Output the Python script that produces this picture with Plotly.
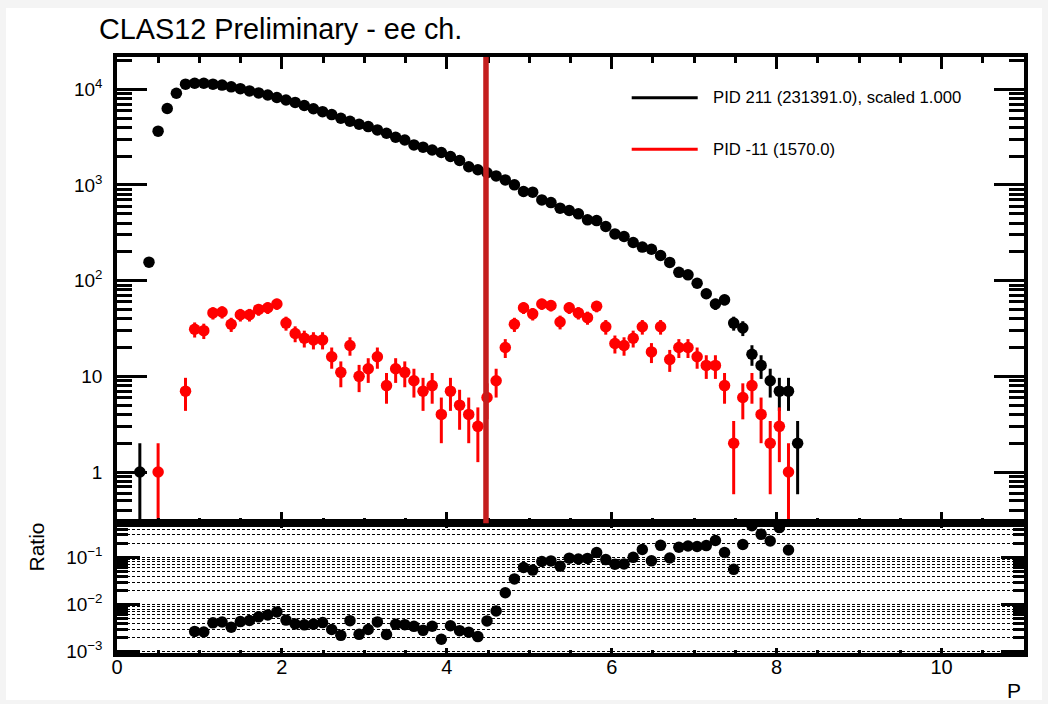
import numpy as np
import plotly.graph_objects as go

# ---------------- data ----------------
bin_width = 0.1108          # histogram bin width in P
cut_p = 4.475               # vertical cut line position

# PID 211 counts per bin (bins 0..74)
pid211_counts = [0, 0, 1, 156, 3650, 6300, 9080,
                 11300, 11560, 11560, 11300, 11050, 10600, 10150, 9600, 9150, 8700,
                 8200, 7730, 7280, 6770, 6250, 5830, 5430, 4980, 4630, 4310,
                 4070, 3760, 3470, 3150, 2950, 2620, 2480, 2320, 2180, 1980,
                 1800, 1550, 1440, 1340, 1242, 1129, 1002, 853, 840, 698,
                 654, 572, 540, 499, 432, 424, 368, 308, 289, 250,
                 224, 213, 183, 155, 122, 115, 94, 73, 57, 63,
                 36, 32, 17, 13, 9, 7, 7, 2]

# PID -11 counts per bin (bins 0..74)
pid_m11_counts = [0, 0, 0, 0, 1, 0, 0,
                  7, 31, 30, 46, 47, 35, 44, 44, 50, 52,
                  57, 36, 28, 25, 24, 24, 16, 11, 21, 10,
                  12, 16, 8, 12, 11, 9, 7, 8, 4, 7,
                  5, 4, 3, 6, 9, 20, 35, 52, 45, 57,
                  55, 37, 52, 46, 41, 54, 33, 22, 21, 25,
                  33, 18, 33, 15, 20, 20, 16, 13, 13, 8,
                  2, 6, 8, 4, 2, 3, 1, 0]

# ratio panel values per bin (bins 0..74), None where not shown
ratio_values = [None, None, None, None, None, None, None,
                None, 0.00268, 0.00260, 0.00407, 0.00425, 0.00330, 0.00433, 0.00458, 0.00546, 0.00598,
                0.00695, 0.00466, 0.00385, 0.00369, 0.00384, 0.00412, 0.00295, 0.00221, 0.00454, 0.00232,
                0.00295, 0.00426, 0.00231, 0.00381, 0.00373, 0.00344, 0.00282, 0.00345, 0.00183, 0.00354,
                0.00278, 0.00258, 0.00208, 0.00448, 0.00725, 0.0177, 0.0349, 0.0610, 0.0536, 0.0817,
                0.0841, 0.0647, 0.0963, 0.0922, 0.0949, 0.127, 0.0897, 0.0714, 0.0727, 0.100,
                0.147, 0.0845, 0.180, 0.0968, 0.164, 0.174, 0.170, 0.178, 0.228, 0.127,
                0.0556, 0.1875, 0.471, 0.308, 0.222, 0.429, 0.143, None]

legend_labels = ["PID 211 (231391.0), scaled 1.000", "PID -11 (1570.0)"]
title_text = "CLAS12 Preliminary - ee ch."

top_tickvals = [1, 10, 100, 1000, 10000]
top_ticktext = ["1", "10", "10<sup>2</sup>", "10<sup>3</sup>", "10<sup>4</sup>"]
bot_tickvals = [1e-3, 1e-2, 1e-1]
bot_ticktext = ["10<sup>\u22123</sup>", "10<sup>\u22122</sup>", "10<sup>\u22121</sup>"]

# ---------------- layout geometry ----------------
W, H = 1048, 704
L, R, T, B = 117, 1024, 57, 653
SPLIT = 523.3
FONT = "Liberation Sans, Arial, Helvetica, sans-serif"


def pxx(px):
    return (px - L) / (R - L)


def pxy(py):
    return (B - py) / (B - T)


split_frac = pxy(SPLIT)

x_centers = [(k + 0.5) * bin_width for k in range(len(pid211_counts))]


def nonzero(counts):
    xs = [x for x, c in zip(x_centers, counts) if c > 0]
    ys = [c for c in counts if c > 0]
    return xs, ys, list(np.sqrt(ys))


MS = 11.5
fig = go.Figure()

bx, by, be = nonzero(pid211_counts)
fig.add_trace(go.Scatter(
    x=bx, y=by, mode="markers", name=legend_labels[0],
    marker=dict(color="black", size=MS),
    error_y=dict(type="data", array=be, color="black", thickness=3, width=0),
    xaxis="x", yaxis="y", showlegend=False))

rx, ry, re_ = nonzero(pid_m11_counts)
fig.add_trace(go.Scatter(
    x=rx, y=ry, mode="markers", name=legend_labels[1],
    marker=dict(color="#ff0000", size=MS),
    error_y=dict(type="data", array=re_, color="#ff0000", thickness=3, width=0),
    xaxis="x", yaxis="y", showlegend=False))

qx = [x for x, v in zip(x_centers, ratio_values) if v is not None]
qy = [v for v in ratio_values if v is not None]
fig.add_trace(go.Scatter(
    x=qx, y=qy, mode="markers", marker=dict(color="black", size=MS),
    xaxis="x2", yaxis="y2", showlegend=False, cliponaxis=False))

minor_top = [m * 10.0 ** e for e in range(-1, 5) for m in range(2, 10)]
minor_bot = [m * 10.0 ** e for e in range(-3, 0) for m in range(2, 10)]

common_x = dict(range=[0, 11], tick0=0, dtick=2, ticks="inside", tickcolor="black",
                showline=True, linecolor="black", linewidth=3.5, mirror="ticks",
                showgrid=False, zeroline=False)

fig.update_layout(
    width=W, height=H, autosize=False,
    margin=dict(l=L, r=W - R, t=T, b=H - B, pad=0),
    paper_bgcolor="#f4f4f4", plot_bgcolor="white",
    font=dict(family=FONT, color="black"),
    xaxis=dict(**common_x, domain=[0, 1], anchor="y", showticklabels=False,
               ticklen=12, tickwidth=3,
               minor=dict(tick0=0, dtick=0.5, ticks="inside", ticklen=6, tickwidth=2.5,
                          tickcolor="black")),
    yaxis=dict(domain=[split_frac, 1], anchor="x", type="log", range=[-0.536, 4.337],
               tickmode="array", tickvals=top_tickvals, ticktext=top_ticktext,
               ticks="inside", ticklen=30, tickwidth=2.5, tickcolor="black",
               tickfont=dict(size=19, family=FONT), ticklabelstandoff=7,
               minor=dict(tickmode="array", tickvals=minor_top, ticks="inside", ticklen=15,
                          tickwidth=2.5, tickcolor="black"),
               showline=True, linecolor="black", linewidth=3.5, mirror="ticks",
               showgrid=False, zeroline=False),
    xaxis2=dict(**common_x, domain=[0, 1], anchor="y2", matches="x",
                ticklen=5, tickwidth=3, tickfont=dict(size=20, family=FONT),
                ticklabelstandoff=-7,
                minor=dict(tick0=0, dtick=0.5, ticks="inside", ticklen=3, tickwidth=2.5,
                           tickcolor="black")),
    yaxis2=dict(domain=[0, split_frac], anchor="x2", type="log", range=[-3.03, -0.277],
                tickmode="array", tickvals=bot_tickvals, ticktext=bot_ticktext,
                ticks="inside", ticklen=23, tickwidth=2.5, tickcolor="black",
                tickfont=dict(size=19, family=FONT), ticklabelstandoff=7,
                showgrid=True, gridcolor="black", gridwidth=1.3, griddash="3px,2px",
                minor=dict(tickmode="array", tickvals=minor_bot, ticks="inside", ticklen=11,
                           tickwidth=2.5, tickcolor="black", showgrid=True,
                           gridcolor="black", gridwidth=1.3, griddash="3px,2px"),
                showline=True, linecolor="black", linewidth=3.5, mirror="ticks",
                zeroline=False),
)

# white canvas behind everything
fig.add_shape(type="rect", xref="paper", yref="paper", layer="below",
              x0=pxx(6), x1=pxx(1042), y0=pxy(700), y1=pxy(8),
              fillcolor="white", line=dict(width=0))

# vertical cut line in the upper pad
fig.add_shape(type="line", xref="x", yref="y domain", x0=cut_p, x1=cut_p, y0=0, y1=1,
              line=dict(color="#c41e1e", width=5.5), layer="above")

# legend (line samples + labels)
legend_colors = ["black", "#ff0000"]
legend_rows = [97.7, 149.3]
for lab, col, ry_px in zip(legend_labels, legend_colors, legend_rows):
    fig.add_shape(type="line", xref="paper", yref="paper",
                  x0=pxx(631.7), x1=pxx(697.7), y0=pxy(ry_px), y1=pxy(ry_px),
                  line=dict(color=col, width=3))
    fig.add_annotation(xref="paper", yref="paper", x=pxx(711), y=pxy(ry_px),
                       text=lab, showarrow=False, xanchor="left", yanchor="middle",
                       font=dict(size=16.7, family=FONT, color="black"))

# title
fig.add_annotation(xref="paper", yref="paper", x=pxx(97), y=pxy(29), text=title_text,
                   showarrow=False, xanchor="left", yanchor="middle",
                   font=dict(size=28.8, family=FONT, color="black"))
# axis titles
fig.add_annotation(xref="paper", yref="paper", x=pxx(36), y=pxy(547.5), text="Ratio",
                   showarrow=False, textangle=-90, xanchor="center", yanchor="middle",
                   font=dict(size=21, family=FONT, color="black"))
fig.add_annotation(xref="paper", yref="paper", x=pxx(1023), y=pxy(690), text="P",
                   showarrow=False, xanchor="right", yanchor="middle",
                   font=dict(size=21, family=FONT, color="black"))

fig.write_html("out.html", config=dict(displayModeBar=False))
